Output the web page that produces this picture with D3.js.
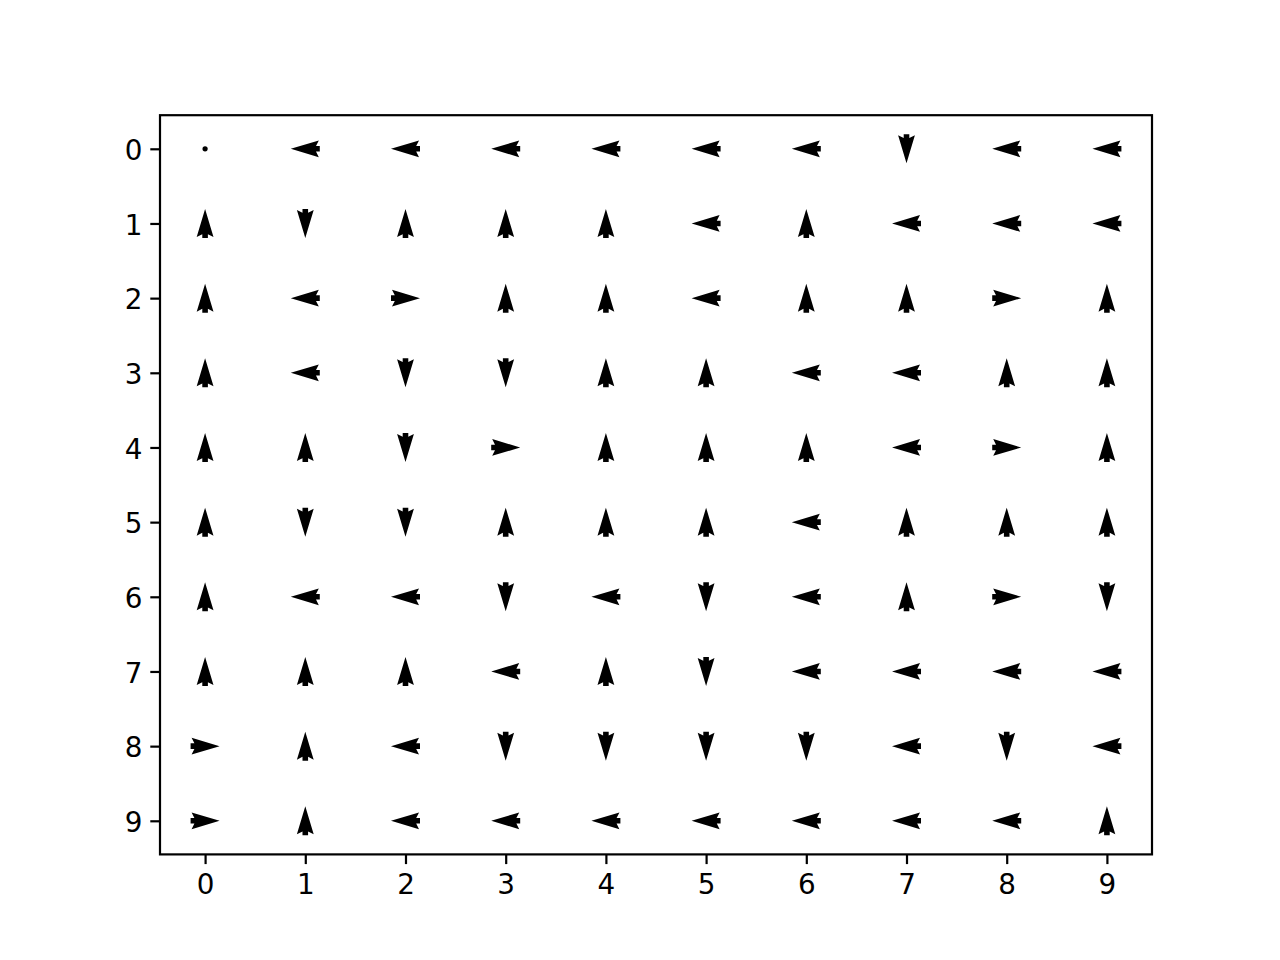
<!DOCTYPE html>
<html>
<head>
<meta charset="utf-8">
<script src="https://cdn.jsdelivr.net/npm/d3@7"></script>
<style>
  html, body { margin: 0; padding: 0; background: #fff; }
  svg { display: block; }
  text { font-family: "DejaVu Sans", sans-serif; }
</style>
</head>
<body>
<script>
// Grid policy: rows (y, top to bottom) x columns (x). Directions on screen.
const xTicks = [0,1,2,3,4,5,6,7,8,9];
const yTicks = [0,1,2,3,4,5,6,7,8,9];
const row0 = ["O","L","L","L","L","L","L","D","L","L"];
const row1 = ["U","D","U","U","U","L","U","L","L","L"];
const row2 = ["U","L","R","U","U","L","U","U","R","U"];
const row3 = ["U","L","D","D","U","U","L","L","U","U"];
const row4 = ["U","U","D","R","U","U","U","L","R","U"];
const row5 = ["U","D","D","U","U","U","L","U","U","U"];
const row6 = ["U","L","L","D","L","D","L","U","R","D"];
const row7 = ["U","U","U","L","U","D","L","L","L","L"];
const row8 = ["R","U","L","D","D","D","D","L","D","L"];
const row9 = ["R","U","L","L","L","L","L","L","L","U"];
const rows = [row0,row1,row2,row3,row4,row5,row6,row7,row8,row9];

(function () {
const W = 1280, H = 960;
const mLeft = 160, mRight = 1152, mTop = 115.2, mBottom = 854.4;

const svg = d3.select("body").append("svg").attr("width", W).attr("height", H);

const x = d3.scaleLinear().domain([-0.45, 9.45]).range([mLeft, mRight]);
const y = d3.scaleLinear().domain([-0.45, 9.45]).range([mTop, mBottom]);

const cells = [];
rows.forEach((r, j) => r.forEach((d, i) => cells.push({i, j, d})));

// arrow geometry (pixels), matplotlib-style quiver arrow, pivot mid
const w = 5.6;             // shaft width
const L = 29;              // total length
const hl = 5 * w, hal = 4.5 * w, hw = 3 * w;
const pts = [
  [0, w/2], [L - hal, w/2], [L - hl, hw/2], [L, 0],
  [L - hl, -hw/2], [L - hal, -w/2], [0, -w/2]
].map(p => [p[0] - L/2, p[1]]);
const arrowPath = "M" + pts.map(p => p.join(",")).join("L") + "Z";
const angle = {R: 0, D: 90, L: 180, U: -90};

const g = svg.append("g");
g.selectAll("path.arrow").data(cells.filter(c => c.d !== "O")).enter()
  .append("path")
  .attr("d", arrowPath)
  .attr("fill", "#000")
  .attr("transform", c => `translate(${x(c.i)},${y(c.j)}) rotate(${angle[c.d]})`);
g.selectAll("circle.zero").data(cells.filter(c => c.d === "O")).enter()
  .append("circle")
  .attr("cx", c => x(c.i)).attr("cy", c => y(c.j)).attr("r", 2.6).attr("fill", "#000");

// axes
const fs = 27.8;
const xAxis = d3.axisBottom(x).tickValues(xTicks).tickSize(9.7).tickPadding(10).tickFormat(d3.format("d"));
const yAxis = d3.axisLeft(y).tickValues(yTicks).tickSize(9.7).tickPadding(8).tickFormat(d3.format("d"));

const gx = svg.append("g").attr("transform", `translate(0,${mBottom})`).call(xAxis);
const gy = svg.append("g").attr("transform", `translate(${mLeft},0)`).call(yAxis);
[gx, gy].forEach(a => {
  a.attr("font-size", null).attr("font-family", null);
  a.select(".domain").remove();
  a.selectAll("line").attr("stroke", "#000").attr("stroke-width", 2.2);
  a.selectAll("text").style("font-size", fs + "px").attr("fill", "#000")
    .style("font-family", "'DejaVu Sans', sans-serif");
});
gy.selectAll("text").attr("dy", "0.39em");

svg.append("rect").attr("x", mLeft).attr("y", mTop)
  .attr("width", mRight - mLeft).attr("height", mBottom - mTop)
  .attr("fill", "none").attr("stroke", "#000").attr("stroke-width", 2.2);
})();
</script>
</body>
</html>
